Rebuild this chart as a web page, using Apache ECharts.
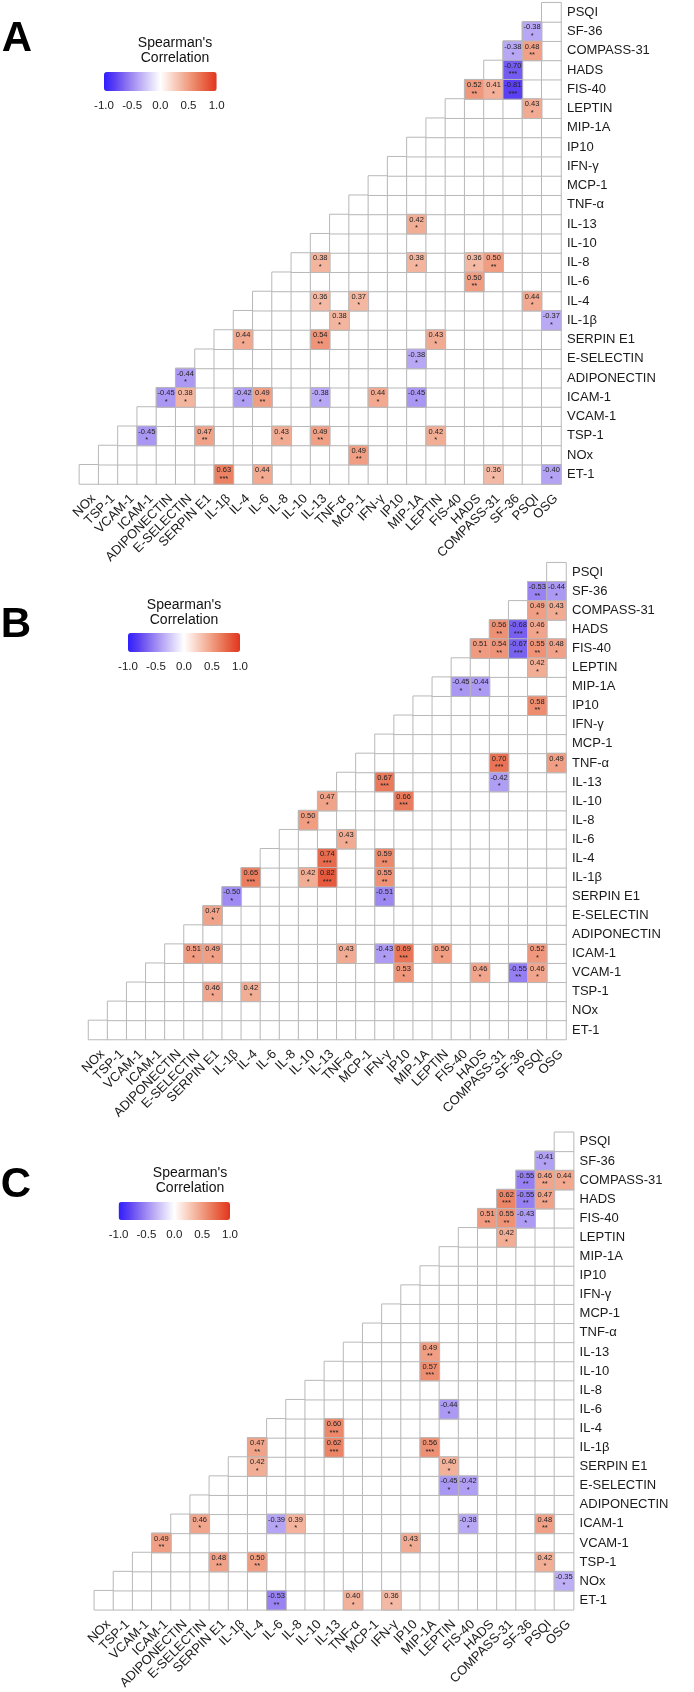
<!DOCTYPE html>
<html>
<head>
<meta charset="utf-8">
<script src="https://cdn.jsdelivr.net/npm/echarts@6/dist/echarts.min.js"></script>
<style>
  html, body { margin: 0; padding: 0; background: #fff; }
  #chart { width: 694px; height: 1692px; }
</style>
</head>
<body>
<div id="chart"></div>
<script>
// variables in matrix order (ET-1 bottom row, OSG last column)
const variables = ['ET-1', 'NOx', 'TSP-1', 'VCAM-1', 'ICAM-1', 'ADIPONECTIN', 'E-SELECTIN', 'SERPIN E1',
  'IL-1β', 'IL-4', 'IL-6', 'IL-8', 'IL-10', 'IL-13', 'TNF-α', 'MCP-1', 'IFN-γ', 'IP10', 'MIP-1A',
  'LEPTIN', 'FIS-40', 'HADS', 'COMPASS-31', 'SF-36', 'PSQI', 'OSG']
const xLabels = variables.slice(1)
const yLabels = variables.slice(0, 25)
const legendTicks = [-1, -0.5, 0, 0.5, 1]
const panelLetters = ['A', 'B', 'C']

// significant correlations: [row, column, rho, stars]
const panelA = [
  ['SF-36', 'PSQI', -0.38, '*'],
  ['COMPASS-31', 'SF-36', -0.38, '*'], ['COMPASS-31', 'PSQI', 0.48, '**'],
  ['HADS', 'SF-36', -0.70, '***'],
  ['FIS-40', 'HADS', 0.52, '**'], ['FIS-40', 'COMPASS-31', 0.41, '*'], ['FIS-40', 'SF-36', -0.81, '***'],
  ['LEPTIN', 'PSQI', 0.43, '*'],
  ['IL-13', 'MIP-1A', 0.42, '*'],
  ['IL-8', 'IL-13', 0.38, '*'], ['IL-8', 'MIP-1A', 0.38, '*'], ['IL-8', 'HADS', 0.36, '*'], ['IL-8', 'COMPASS-31', 0.50, '**'],
  ['IL-6', 'HADS', 0.50, '**'],
  ['IL-4', 'IL-13', 0.36, '*'], ['IL-4', 'MCP-1', 0.37, '*'], ['IL-4', 'PSQI', 0.44, '*'],
  ['IL-1β', 'TNF-α', 0.38, '*'], ['IL-1β', 'OSG', -0.37, '*'],
  ['SERPIN E1', 'IL-4', 0.44, '*'], ['SERPIN E1', 'IL-13', 0.54, '**'], ['SERPIN E1', 'LEPTIN', 0.43, '*'],
  ['E-SELECTIN', 'MIP-1A', -0.38, '*'],
  ['ADIPONECTIN', 'E-SELECTIN', -0.44, '*'],
  ['ICAM-1', 'ADIPONECTIN', -0.45, '*'], ['ICAM-1', 'E-SELECTIN', 0.38, '*'], ['ICAM-1', 'IL-4', -0.42, '*'],
  ['ICAM-1', 'IL-6', 0.49, '**'], ['ICAM-1', 'IL-13', -0.38, '*'], ['ICAM-1', 'IFN-γ', 0.44, '*'], ['ICAM-1', 'MIP-1A', -0.45, '*'],
  ['TSP-1', 'ICAM-1', -0.45, '*'], ['TSP-1', 'SERPIN E1', 0.47, '**'], ['TSP-1', 'IL-8', 0.43, '*'],
  ['TSP-1', 'IL-13', 0.49, '**'], ['TSP-1', 'LEPTIN', 0.42, '*'],
  ['NOx', 'MCP-1', 0.49, '**'],
  ['ET-1', 'IL-1β', 0.63, '***'], ['ET-1', 'IL-6', 0.44, '*'], ['ET-1', 'COMPASS-31', 0.36, '*'], ['ET-1', 'OSG', -0.40, '*']
]

const panelB = [
  ['SF-36', 'PSQI', -0.53, '**'], ['SF-36', 'OSG', -0.44, '*'],
  ['COMPASS-31', 'PSQI', 0.49, '*'], ['COMPASS-31', 'OSG', 0.43, '*'],
  ['HADS', 'COMPASS-31', 0.56, '**'], ['HADS', 'SF-36', -0.68, '***'], ['HADS', 'PSQI', 0.46, '*'],
  ['FIS-40', 'HADS', 0.51, '*'], ['FIS-40', 'COMPASS-31', 0.54, '**'], ['FIS-40', 'SF-36', -0.67, '***'],
  ['FIS-40', 'PSQI', 0.55, '**'], ['FIS-40', 'OSG', 0.48, '*'],
  ['LEPTIN', 'PSQI', 0.42, '*'],
  ['MIP-1A', 'FIS-40', -0.45, '*'], ['MIP-1A', 'HADS', -0.44, '*'],
  ['IP10', 'PSQI', 0.58, '**'],
  ['TNF-α', 'COMPASS-31', 0.70, '***'], ['TNF-α', 'OSG', 0.49, '*'],
  ['IL-13', 'IFN-γ', 0.67, '***'], ['IL-13', 'COMPASS-31', -0.42, '*'],
  ['IL-10', 'IL-13', 0.47, '*'], ['IL-10', 'IP10', 0.66, '***'],
  ['IL-8', 'IL-10', 0.50, '*'],
  ['IL-6', 'TNF-α', 0.43, '*'],
  ['IL-4', 'IL-13', 0.74, '***'], ['IL-4', 'IFN-γ', 0.59, '**'],
  ['IL-1β', 'IL-4', 0.65, '***'], ['IL-1β', 'IL-10', 0.42, '*'], ['IL-1β', 'IL-13', 0.82, '***'], ['IL-1β', 'IFN-γ', 0.55, '**'],
  ['SERPIN E1', 'IL-1β', -0.50, '*'], ['SERPIN E1', 'IFN-γ', -0.51, '*'],
  ['E-SELECTIN', 'SERPIN E1', 0.47, '*'],
  ['ICAM-1', 'E-SELECTIN', 0.51, '*'], ['ICAM-1', 'SERPIN E1', 0.49, '*'], ['ICAM-1', 'TNF-α', 0.43, '*'],
  ['ICAM-1', 'IFN-γ', -0.43, '*'], ['ICAM-1', 'IP10', 0.69, '***'], ['ICAM-1', 'LEPTIN', 0.50, '*'], ['ICAM-1', 'PSQI', 0.52, '*'],
  ['VCAM-1', 'IP10', 0.53, '*'], ['VCAM-1', 'HADS', 0.46, '*'], ['VCAM-1', 'SF-36', -0.55, '**'], ['VCAM-1', 'PSQI', 0.46, '*'],
  ['TSP-1', 'SERPIN E1', 0.46, '*'], ['TSP-1', 'IL-4', 0.42, '*']
]

const panelC = [
  ['SF-36', 'PSQI', -0.41, '*'],
  ['COMPASS-31', 'SF-36', -0.55, '**'], ['COMPASS-31', 'PSQI', 0.46, '**'], ['COMPASS-31', 'OSG', 0.44, '*'],
  ['HADS', 'COMPASS-31', 0.62, '***'], ['HADS', 'SF-36', -0.55, '**'], ['HADS', 'PSQI', 0.47, '**'],
  ['FIS-40', 'HADS', 0.51, '**'], ['FIS-40', 'COMPASS-31', 0.55, '**'], ['FIS-40', 'SF-36', -0.43, '*'],
  ['LEPTIN', 'COMPASS-31', 0.42, '*'],
  ['IL-13', 'MIP-1A', 0.49, '**'],
  ['IL-10', 'MIP-1A', 0.57, '***'],
  ['IL-6', 'LEPTIN', -0.44, '*'],
  ['IL-4', 'IL-13', 0.60, '***'],
  ['IL-1β', 'IL-4', 0.47, '**'], ['IL-1β', 'IL-13', 0.62, '***'], ['IL-1β', 'MIP-1A', 0.56, '***'],
  ['SERPIN E1', 'IL-4', 0.42, '*'], ['SERPIN E1', 'LEPTIN', 0.40, '*'],
  ['E-SELECTIN', 'LEPTIN', -0.45, '*'], ['E-SELECTIN', 'FIS-40', -0.42, '*'],
  ['ICAM-1', 'E-SELECTIN', 0.46, '*'], ['ICAM-1', 'IL-6', -0.39, '*'], ['ICAM-1', 'IL-8', 0.39, '*'],
  ['ICAM-1', 'FIS-40', -0.38, '*'], ['ICAM-1', 'PSQI', 0.48, '**'],
  ['VCAM-1', 'ICAM-1', 0.49, '**'], ['VCAM-1', 'IP10', 0.43, '*'],
  ['TSP-1', 'SERPIN E1', 0.48, '**'], ['TSP-1', 'IL-4', 0.50, '**'], ['TSP-1', 'PSQI', 0.42, '*'],
  ['NOx', 'OSG', -0.35, '*'],
  ['ET-1', 'IL-6', -0.53, '**'], ['ET-1', 'TNF-α', 0.40, '*'], ['ET-1', 'IFN-γ', 0.36, '*']
]

const panels = [panelA, panelB, panelC]

// blue - white - red, stops every 0.2 from -1 to 1
const scaleColors = ['#2f1eff', '#5d42f2', '#8a73f1', '#b4a2f4', '#dad2fa', '#ffffff',
  '#fad8cc', '#f3b19a', '#ed886a', '#e75e40', '#e2341f']

const FONT = '"Liberation Sans", Arial, sans-serif'

const layout = [
  { grid: { left: 79.4, top: 2.7, width: 481.6, height: 481.3 }, letter: [17, 39], title: [175, 43], bar: { left: 104, top: 72, width: 112.7, height: 19 } },
  { grid: { left: 88.5, top: 562.7, width: 477.5, height: 476.8 }, letter: [16, 625], title: [184, 605], bar: { left: 128, top: 633, width: 112, height: 19 } },
  { grid: { left: 94.3, top: 1132.3, width: 479.3, height: 477.5 }, letter: [16, 1185], title: [190, 1173], bar: { left: 118.6, top: 1202, width: 111.4, height: 18 } }
]

// lower triangle is empty, every cell with column index >= row index is drawn
const triangleCells = []
for (let yi = 0; yi < yLabels.length; yi++) {
  for (let xi = 0; xi < xLabels.length; xi++) {
    if (xi >= yi) triangleCells.push([xi, yi, 0])
  }
}

const toCells = rows => rows.map(([row, col, rho, stars]) => ({
  value: [xLabels.indexOf(col), yLabels.indexOf(row), rho],
  stars
}))

const grid = [], xAxis = [], yAxis = [], series = [], visualMap = [], graphic = []

layout.forEach((lay, p) => {
  grid.push(lay.grid)
  xAxis.push({
    type: 'category', data: xLabels, gridIndex: p,
    axisLine: { show: false }, axisTick: { show: false }, splitLine: { show: false },
    axisLabel: { rotate: 45, align: 'right', verticalAlign: 'top', margin: 8, interval: 0,
      fontSize: 13, color: '#1a1a1a', fontFamily: FONT }
  })
  yAxis.push({
    type: 'category', data: yLabels, gridIndex: p, position: 'right',
    axisLine: { show: false }, axisTick: { show: false }, splitLine: { show: false },
    axisLabel: { margin: 6, interval: 0, fontSize: 13, color: '#1a1a1a', fontFamily: FONT }
  })
  series.push({
    type: 'heatmap', xAxisIndex: p, yAxisIndex: p, data: triangleCells,
    itemStyle: { color: '#ffffff', borderColor: '#b8b8b8', borderWidth: 1 },
    emphasis: { disabled: true }, silent: true
  })
  series.push({
    type: 'heatmap', xAxisIndex: p, yAxisIndex: p, data: toCells(panels[p]),
    itemStyle: { borderColor: '#b8b8b8', borderWidth: 1 },
    label: { show: true, fontSize: 7.5, lineHeight: 8.5, color: '#222', fontFamily: FONT,
      formatter: d => d.value[2].toFixed(2) + '\n' + d.data.stars },
    emphasis: { disabled: true }, silent: true
  })
  visualMap.push({
    type: 'continuous', min: -1, max: 1, seriesIndex: 2 * p + 1, dimension: 2,
    orient: 'horizontal', left: lay.bar.left, top: lay.bar.top, padding: 0,
    itemWidth: lay.bar.height, itemHeight: lay.bar.width,
    calculable: false, hoverLink: false, text: null,
    inRange: { color: scaleColors }
  })
  graphic.push({
    type: 'text', x: lay.letter[0], y: lay.letter[1],
    style: { text: panelLetters[p], font: 'bold 42px ' + FONT, fill: '#000', align: 'center', verticalAlign: 'middle' }
  })
  graphic.push({
    type: 'text', x: lay.title[0], y: lay.title[1] - 8,
    style: { text: "Spearman's\nCorrelation", font: '14px ' + FONT, lineHeight: 15.5, fill: '#111', align: 'center', verticalAlign: 'top' }
  })
})

// colour bar tick labels and white ticks on the bar
layout.forEach((lay, p) => {
  grid.push({ left: lay.bar.left, top: lay.bar.top, width: lay.bar.width, height: lay.bar.height })
  xAxis.push({
    type: 'value', gridIndex: 3 + p, min: legendTicks[0], max: legendTicks[legendTicks.length - 1], interval: 0.5,
    position: 'bottom', axisLine: { show: false }, splitLine: { show: false },
    axisTick: { show: true, inside: true, length: 4, lineStyle: { color: '#fff', width: 1 } },
    axisLabel: { margin: 9, fontSize: 11.5, color: '#1a1a1a', fontFamily: FONT, formatter: v => v.toFixed(1) }
  })
  yAxis.push({ type: 'value', gridIndex: 3 + p, show: false, min: 0, max: 1 })
})
layout.forEach((lay, p) => {
  xAxis.push({
    type: 'value', gridIndex: 3 + p, min: legendTicks[0], max: legendTicks[legendTicks.length - 1], interval: 0.5,
    position: 'top', axisLine: { show: false }, splitLine: { show: false }, axisLabel: { show: false },
    axisTick: { show: true, inside: true, length: 4, lineStyle: { color: '#fff', width: 1 } }
  })
})

const chart = echarts.init(document.getElementById('chart'))
chart.setOption({
  animation: false,
  backgroundColor: '#fff',
  textStyle: { fontFamily: FONT },
  grid, xAxis, yAxis, series, visualMap, graphic
})
</script>
</body>
</html>
